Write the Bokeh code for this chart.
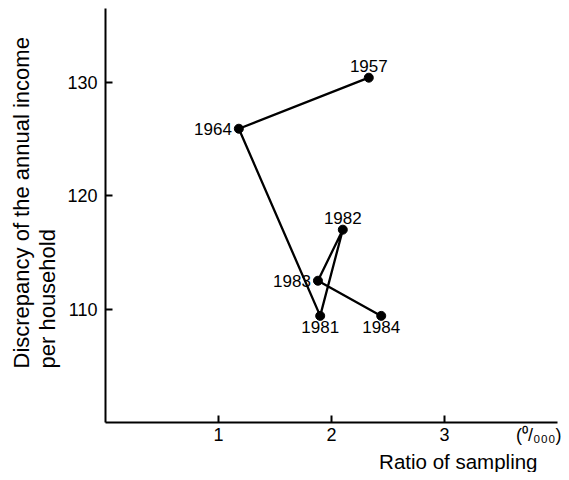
from bokeh.plotting import figure
from bokeh.models import Range1d, Label, ColumnDataSource, FixedTicker, Title, LinearAxis
from bokeh.embed import file_html
from bokeh.resources import INLINE

years = ["1957", "1964", "1981", "1982", "1983", "1984"]
ratio = [2.33, 1.18, 1.90, 2.10, 1.88, 2.44]
discrepancy = [130.4, 125.9, 109.4, 117.0, 112.5, 109.4]
label_pos = ["above", "left", "below", "above", "left", "below"]
x_ticks = [1, 2, 3]
y_ticks = [110, 120, 130]
x_title = "Ratio of sampling"
y_title = "Discrepancy  of the annual income\nper household"
unit_pos = 3.86
unit_text = "(\u2070/\u2080\u2080\u2080)"

FONT = "Liberation Sans"
W, H = 561, 472

p = figure(width=W, height=H, output_backend="svg", toolbar_location=None,
           x_range=Range1d(0, 4), y_range=Range1d(100, 136.5),
           min_border_left=105, min_border_right=4, min_border_top=8, min_border_bottom=50)
p.outline_line_color = None
p.grid.visible = False
p.background_fill_color = "white"
p.border_fill_color = "white"

for ax in (p.xaxis[0], p.yaxis[0]):
    ax.major_tick_in = 7
    ax.major_tick_out = 0
    ax.minor_tick_line_color = None
    ax.axis_line_width = 2
    ax.major_tick_line_width = 2
    ax.axis_line_color = "black"
    ax.major_tick_line_color = "black"
    ax.major_label_text_font = FONT
    ax.major_label_text_font_size = "18px"
    ax.major_label_text_color = "black"
p.yaxis.ticker = FixedTicker(ticks=y_ticks)
p.yaxis.major_label_standoff = 8

# main x axis: line and tick marks only (empty labels that take no room)
p.xaxis.ticker = FixedTicker(ticks=x_ticks)
p.xaxis.major_label_overrides = {t: "" for t in x_ticks}
p.xaxis.major_label_text_font_size = "1px"
p.xaxis.major_label_standoff = 0

# second x axis just below it: the tick numbers and the unit mark
label_axis = LinearAxis(ticker=FixedTicker(ticks=x_ticks + [unit_pos]),
                        major_label_overrides={unit_pos: unit_text},
                        axis_line_color=None, major_tick_line_color=None,
                        minor_tick_line_color=None, major_tick_in=0, major_tick_out=0,
                        major_label_standoff=2, major_label_text_font=FONT,
                        major_label_text_font_size="18px", major_label_text_color="black")
p.add_layout(label_axis, "below")

src = ColumnDataSource(dict(x=ratio, y=discrepancy, t=years))
p.line("x", "y", source=src, line_color="black", line_width=2.3)
p.scatter("x", "y", source=src, size=9, color="black")

for xv, yv, t, pos in zip(ratio, discrepancy, years, label_pos):
    if pos == "above":
        kw = dict(text_align="center", text_baseline="bottom", y_offset=6)
    elif pos == "below":
        kw = dict(text_align="center", text_baseline="top", y_offset=-5)
    else:
        kw = dict(text_align="right", text_baseline="middle", x_offset=-7)
    p.add_layout(Label(x=xv, y=yv, text=t, text_font=FONT, text_font_size="17px",
                       text_color="black", **kw))

def title(text, size, **kw):
    return Title(text=text, text_font=FONT, text_font_size=size,
                 text_font_style="normal", text_color="black", **kw)

p.add_layout(title(x_title, "20.5px", align="right", offset=20, standoff=0), "below")
p.add_layout(title(y_title, "22px", align="left", offset=54, standoff=9,
                   text_line_height=1.05), "left")

open("out.html", "w").write(file_html(p, INLINE))
